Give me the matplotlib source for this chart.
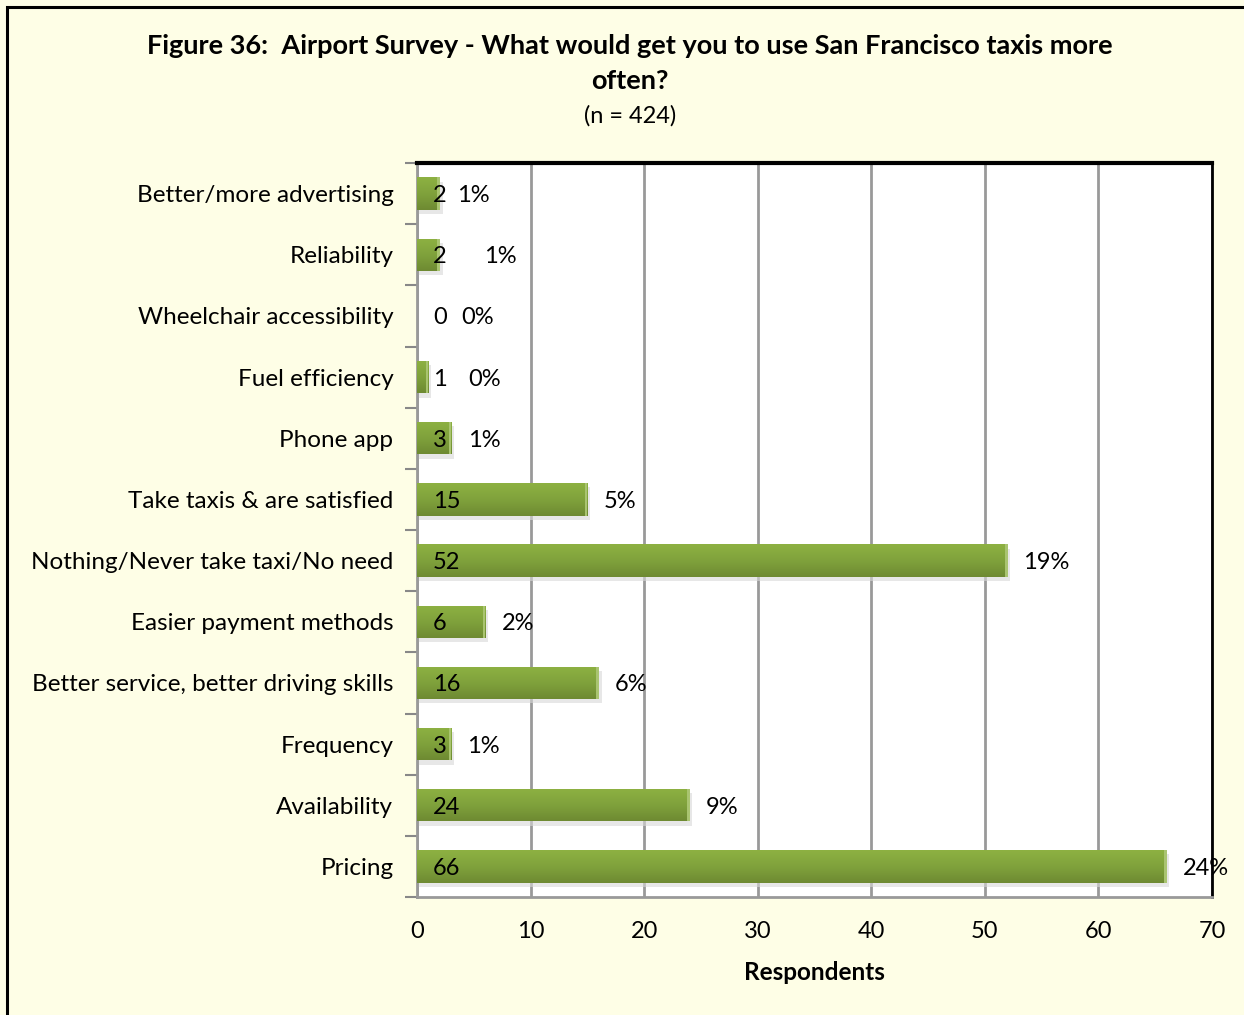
import matplotlib
matplotlib.use("Agg")
import matplotlib.pyplot as plt
import numpy as np
from matplotlib.patches import Rectangle
from matplotlib.colors import LinearSegmentedColormap

categories = ["Pricing", "Availability", "Frequency", "Better service, better driving skills",
              "Easier payment methods", "Nothing/Never take taxi/No need", "Take taxis & are satisfied",
              "Phone app", "Fuel efficiency", "Wheelchair accessibility", "Reliability",
              "Better/more advertising"]
counts = [66, 24, 3, 16, 6, 52, 15, 3, 1, 0, 2, 2]
percents = ["24%", "9%", "1%", "6%", "2%", "19%", "5%", "1%", "0%", "0%", "1%", "1%"]
xticks = [0, 10, 20, 30, 40, 50, 60, 70]

# layout: pixel offsets of percent labels from bar end
pct_offset_px = [16, 16, 16, 16, 17, 15, 16, 17, 40, 44, 44, 17]

plt.rcParams['font.family'] = ['Lato', 'DejaVu Sans']
W, H = 1244, 1015
fig = plt.figure(figsize=(W / 100, H / 100), dpi=100)
fig.patch.set_facecolor('#FEFEE6')

# outer border
fig.add_artist(Rectangle((7 / W, -0.05), 1.2, 1 - 7 / H + 0.05, transform=fig.transFigure,
                         fill=False, edgecolor='black', linewidth=2.2))

ax = fig.add_axes([417 / W, 1 - 897 / H, (1212 - 417) / W, (897 - 163) / H])
ax.set_facecolor('white')

y = np.arange(len(categories))
bh = 0.53
# shadows
for yi, c in zip(y, counts):
    if c > 0:
        ax.add_patch(Rectangle((0, yi - bh / 2 - 0.07), c + 0.25, bh, facecolor='#d8d8d8',
                               edgecolor='none', zorder=2, alpha=0.6))
bars = ax.barh(y, counts, height=bh, color='#7E9E3A', zorder=3, edgecolor='none')
grad = np.linspace(0, 1, 64).reshape(-1, 1)
cmap = LinearSegmentedColormap.from_list('g', ['#6E8A32', '#80A23C', '#8DB142'])
for b in bars:
    if b.get_width() <= 0:
        continue
    x0, y0, w, h = b.get_x(), b.get_y(), b.get_width(), b.get_height()
    im = ax.imshow(grad, extent=(x0, x0 + w, y0, y0 + h), origin='lower', cmap=cmap,
                   aspect='auto', zorder=4)
    im.set_clip_path(b)
    ax.add_patch(Rectangle((x0 + w - 0.2, y0), 0.2, h, facecolor='#A9C470', edgecolor='none', zorder=5))
ax.set_xlim(0, 70)
ax.set_ylim(-0.5, len(categories) - 0.5)

for yi, c, p, off in zip(y, counts, percents, pct_offset_px):
    ax.annotate(str(c), (0, yi), xytext=(16, -2), textcoords='offset pixels', ha='left', va='center',
                fontsize=17, color='black', zorder=6)
    ax.annotate(p, (c, yi), xytext=(off, -2), textcoords='offset pixels', ha='left', va='center',
                fontsize=17, color='black', zorder=6, annotation_clip=False)

ax.set_xticks(xticks)
ax.set_xticklabels([str(t) for t in xticks], fontsize=17)
ax.tick_params(axis='x', length=0, pad=17)
ax.set_yticks(y)
ax.set_yticklabels(categories, fontsize=17.5)
ax.tick_params(axis='y', which='major', length=0, pad=17)
ax.set_yticks(np.arange(-0.5, len(categories), 1), minor=True)
ax.tick_params(axis='y', which='minor', length=9, width=1.5, color='#888888', direction='out')
ax.xaxis.grid(True, color='#999999', linewidth=2, zorder=1)
ax.set_axisbelow(True)
ax.spines['left'].set_color('#999999')
ax.spines['left'].set_linewidth(2)
ax.spines['bottom'].set_color('#999999')
ax.spines['bottom'].set_linewidth(2)
ax.spines['top'].set_color('black')
ax.spines['top'].set_linewidth(3)
ax.spines['right'].set_color('black')
ax.spines['right'].set_linewidth(2)

ax.set_xlabel('Respondents', fontsize=17.5, fontweight='bold', labelpad=14)

fig.text(630 / W, 1 - 46 / H, 'Figure 36:  Airport Survey - What would get you to use San Francisco taxis more',
         ha='center', va='center', fontsize=19.5, fontweight='bold')
fig.text(630 / W, 1 - 81 / H, 'often?', ha='center', va='center', fontsize=19.5, fontweight='bold')
fig.text(630 / W, 1 - 116 / H, '(n = 424)', ha='center', va='center', fontsize=17)

fig.savefig('out.png', dpi=100, facecolor=fig.get_facecolor())
